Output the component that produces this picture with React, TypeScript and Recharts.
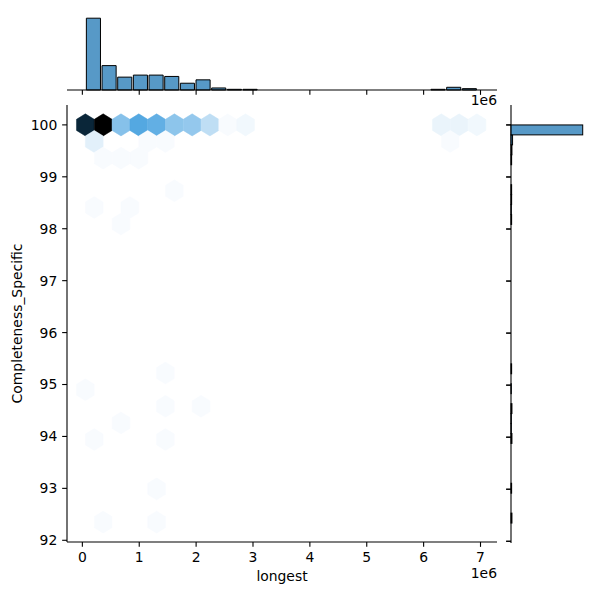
import { Bar, BarChart, Label, Scatter, ScatterChart, XAxis, YAxis } from "recharts";

const FONT = "DejaVu Sans, Verdana, sans-serif";
const FS = 13.9;
const TICK = 4.86;
const LW = 1.1;
const BAR_FILL = "#1f77b4";

// main axes box (px) and data domains
const MAIN = { left: 67, right: 497, top: 105, bottom: 542 };
const RIGHT = { left: 511, right: 586.3 };
const X_DOMAIN: [number, number] = [-0.27, 7.29]; // longest, 1e6
const Y_DOMAIN: [number, number] = [91.967, 100.383];
const X_TICKS = [0, 1, 2, 3, 4, 5, 6, 7];
const Y_TICKS = [92, 93, 94, 95, 96, 97, 98, 99, 100];

// hexbin cells: centre (longest in 1e6, completeness) and count
const HEX_SX = 0.3129;
const HEX_SY = 0.6375;
const hexX = [
  0.053, 0.366, 0.679, 0.992, 1.305, 1.618, 1.93, 2.243, 2.556, 2.869, 6.311, 6.624, 6.937,
  0.209, 1.148, 1.461, 6.467,
  0.366, 0.679, 0.992,
  1.618,
  0.209, 0.835,
  0.679,
  1.461,
  0.053,
  1.461, 2.087,
  0.679,
  0.209, 1.461,
  1.305,
  0.366, 1.305,
];
const hexY = [
  100, 100, 100, 100, 100, 100, 100, 100, 100, 100, 100, 100, 100,
  99.68, 99.68, 99.68, 99.68,
  99.36, 99.36, 99.36,
  98.73,
  98.41, 98.41,
  98.09,
  95.22,
  94.9,
  94.58, 94.58,
  94.26,
  93.94, 93.94,
  92.99,
  92.35, 92.35,
];
const hexCount = [
  54, 62, 18, 25, 23, 17, 16, 10, 2, 3, 4, 4, 3,
  5, 2, 2, 2,
  2, 2, 2,
  2,
  2, 2,
  2,
  2,
  2,
  2, 2,
  2,
  2, 2,
  2,
  2, 2,
];

// marginal histogram of longest (1e6)
const LONGEST_START = 0.053;
const LONGEST_BIN = 0.2754;
const longestCounts = [106, 36, 19, 22, 22, 20, 10, 15, 3, 1, 1, 0, 0, 0, 0, 0, 0, 0, 0, 0, 0, 0, 1, 4, 2];

// marginal histogram of Completeness_Specific
const COMPL_START = 92.35;
const COMPL_BIN = 0.19125;
const complCounts = [
  3, 0, 0, 2, 0, 0, 0, 0, 3, 1, 1, 3, 0, 1, 0, 2, 0, 0, 0, 0,
  0, 0, 0, 0, 0, 0, 0, 0, 0, 0, 2, 1, 2, 2, 0, 0, 2, 3, 5, 229,
];

const hexData = hexX.map((x, i) => ({ x, y: hexY[i], count: hexCount[i] }));
const longestData = longestCounts.map((count, i) => ({ x: LONGEST_START + (i + 0.5) * LONGEST_BIN, count }));
const complData = complCounts.map((count, i) => ({ y: COMPL_START + (i + 0.5) * COMPL_BIN, count }));
const rightTickData = Y_TICKS.map((y) => ({ y, count: 0 }));

const plotW = MAIN.right - MAIN.left;
const plotH = MAIN.bottom - MAIN.top;
const pxX = plotW / (X_DOMAIN[1] - X_DOMAIN[0]);
const pxY = plotH / (Y_DOMAIN[1] - Y_DOMAIN[0]);

// matplotlib hexbin polygon, in px
const HEX_POLY = [
  [0.5, -0.5], [0.5, 0.5], [0, 1], [-0.5, 0.5], [-0.5, -0.5], [0, -1],
].map(([a, b]) => [a * HEX_SX * pxX, b * (HEX_SY / 3) * pxY]);

const HEX_MAX = Math.max(...hexCount);
const HUE_G = 0.591; // green position of #1f77b4 hue
const SAT = 0.705;

function hexFill(count: number) {
  const l = 1 - (count - 1) / (HEX_MAX - 1);
  const c = (1 - Math.abs(2 * l - 1)) * SAT;
  const m = l - c / 2;
  const to = (v: number) => Math.round(Math.max(0, Math.min(1, v)) * 255);
  return `rgb(${to(m)},${to(m + c * HUE_G)},${to(m + c)})`;
}

const HexShape = (props: any) => {
  const { cx, cy, payload } = props;
  if (cx == null || cy == null) return <g />;
  const fill = hexFill(payload.count);
  const pts = HEX_POLY.map(([dx, dy]) => `${cx + dx},${cy + dy}`).join(" ");
  return <polygon points={pts} fill={fill} stroke={fill} strokeWidth={0.5} />;
};

// horizontal histogram bar: from the marginal's baseline out to the count
const HBarShape = (props: any) => {
  const { cx, cy, payload } = props;
  if (cx == null || cy == null || !payload.count) return <g />;
  const h = COMPL_BIN * pxY;
  return (
    <rect
      x={RIGHT.left}
      y={cy - h / 2}
      width={Math.max(cx - RIGHT.left, 0)}
      height={h}
      fill={BAR_FILL}
      fillOpacity={0.75}
      stroke="#000"
      strokeWidth={1}
    />
  );
};

// tick mark on the right marginal's spine
const RightTickShape = (props: any) => {
  const { cy } = props;
  if (cy == null) return <g />;
  return <line x1={RIGHT.left - TICK} x2={RIGHT.left} y1={cy} y2={cy} stroke="#000" strokeWidth={LW} />;
};

const tickStyle = { fill: "#000", fontSize: FS, fontFamily: FONT };
const hiddenTick = { fill: "none", fontSize: FS, fontFamily: FONT };
const lineStyle = { stroke: "#000", strokeWidth: LW };
const blank = () => "";

function TopMarginal() {
  return (
    <BarChart
      width={600}
      height={115}
      data={longestData}
      margin={{ top: 14.6, right: 600 - MAIN.right, bottom: 24, left: MAIN.left }}
      barCategoryGap={0}
    >
      <XAxis
        type="number"
        dataKey="x"
        domain={X_DOMAIN}
        ticks={X_TICKS}
        interval={0}
        tick={hiddenTick}
        tickFormatter={blank}
        height={1}
        tickSize={TICK}
        axisLine={lineStyle}
        tickLine={lineStyle}
        allowDataOverflow
      >
        <Label
          content={({ viewBox }: any) => (
            <text
              x={viewBox.x + viewBox.width}
              y={viewBox.y + 14.5}
              textAnchor="end"
              fontSize={FS}
              fontFamily={FONT}
              fill="#000"
            >
              1e6
            </text>
          )}
        />
      </XAxis>
      <YAxis hide type="number" domain={[0, (m: number) => m * 1.05]} />
      <Bar
        dataKey="count"
        fill={BAR_FILL}
        fillOpacity={0.75}
        stroke="#000"
        strokeWidth={1}
        barSize={LONGEST_BIN * pxX}
        isAnimationActive={false}
      />
    </BarChart>
  );
}

function RightMarginal() {
  return (
    <ScatterChart
      width={600}
      height={600}
      margin={{ top: MAIN.top, right: 600 - RIGHT.right, bottom: 600 - MAIN.bottom - 1, left: RIGHT.left - 60 }}
    >
      <XAxis hide type="number" dataKey="count" height={1} domain={[0, (m: number) => m * 1.05]} />
      <YAxis
        type="number"
        dataKey="y"
        domain={Y_DOMAIN}
        ticks={Y_TICKS}
        interval={0}
        tick={hiddenTick}
        tickFormatter={blank}
        width={60}
        tickSize={TICK}
        axisLine={lineStyle}
        tickLine={lineStyle}
      />
      <Scatter data={complData} shape={HBarShape} isAnimationActive={false} />
      <Scatter data={rightTickData} shape={RightTickShape} isAnimationActive={false} />
    </ScatterChart>
  );
}

function MainHex() {
  return (
    <ScatterChart
      width={600}
      height={600}
      margin={{ top: MAIN.top, right: 600 - MAIN.right, bottom: 600 - MAIN.bottom - 40, left: MAIN.left - 60 }}
    >
      <XAxis
        type="number"
        dataKey="x"
        domain={X_DOMAIN}
        ticks={X_TICKS}
        interval={0}
        height={40}
        tickSize={TICK}
        tickMargin={TICK}
        tick={tickStyle}
        axisLine={lineStyle}
        tickLine={lineStyle}
        tickFormatter={(v: number) => String(v)}
        allowDataOverflow
      >
        <Label
          content={({ viewBox }: any) => (
            <g>
              <text
                x={viewBox.x + viewBox.width / 2}
                y={viewBox.y + 38.5}
                textAnchor="middle"
                fontSize={FS}
                fontFamily={FONT}
                fill="#000"
              >
                longest
              </text>
              <text
                x={viewBox.x + viewBox.width}
                y={viewBox.y + 36.3}
                textAnchor="end"
                fontSize={FS}
                fontFamily={FONT}
                fill="#000"
              >
                1e6
              </text>
            </g>
          )}
        />
      </XAxis>
      <YAxis
        type="number"
        dataKey="y"
        domain={Y_DOMAIN}
        ticks={Y_TICKS}
        interval={0}
        width={60}
        tickSize={TICK}
        tickMargin={TICK}
        tick={tickStyle}
        axisLine={lineStyle}
        tickLine={lineStyle}
        tickFormatter={(v: number) => String(v)}
        allowDataOverflow
      >
        <Label
          content={({ viewBox }: any) => {
            const y = viewBox.y + viewBox.height / 2;
            return (
              <text
                x={21.5}
                y={y}
                transform={`rotate(-90, 21.5, ${y})`}
                textAnchor="middle"
                fontSize={FS}
                fontFamily={FONT}
                fill="#000"
              >
                Completeness_Specific
              </text>
            );
          }}
        />
      </YAxis>
      <Scatter data={hexData} shape={HexShape} isAnimationActive={false} />
    </ScatterChart>
  );
}

export default function App() {
  return (
    <div style={{ position: "absolute", left: 0, top: 0, width: 600, height: 600, background: "#fff" }}>
      <div style={{ position: "absolute", left: 0, top: 0 }}>
        <MainHex />
      </div>
      <div style={{ position: "absolute", left: 0, top: 0 }}>
        <TopMarginal />
      </div>
      <div style={{ position: "absolute", left: 0, top: 0 }}>
        <RightMarginal />
      </div>
    </div>
  );
}
